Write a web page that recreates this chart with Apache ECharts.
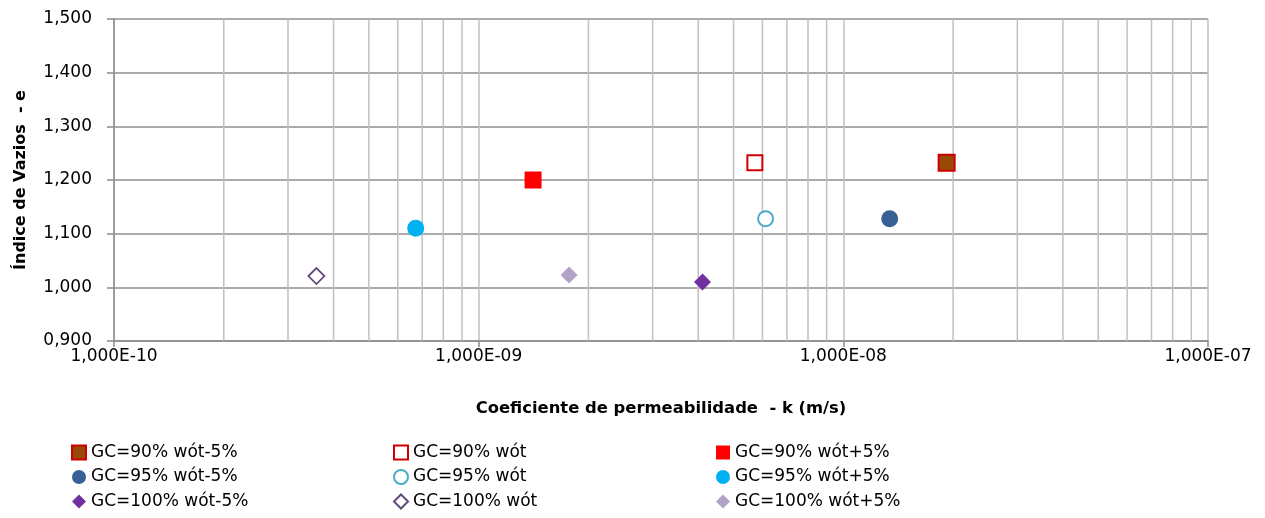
<!DOCTYPE html>
<html>
<head>
<meta charset="utf-8">
<script src="https://cdn.jsdelivr.net/npm/echarts@6/dist/echarts.min.js"></script>
<style>
html,body{margin:0;padding:0;background:#fff;}
#chart{width:1265px;height:518px;}
</style>
</head>
<body>
<div id="chart"></div>
<script>
// ---- Data (k in m/s, e = void ratio) ----
const seriesNames = [
  'GC=90% wót-5%', 'GC=90% wót', 'GC=90% wót+5%',
  'GC=95% wót-5%', 'GC=95% wót', 'GC=95% wót+5%',
  'GC=100% wót-5%', 'GC=100% wót', 'GC=100% wót+5%'
];
const gc90_wm5 = [[1.92e-8, 1.232]];
const gc90_w   = [[5.72e-9, 1.232]];
const gc90_wp5 = [[1.41e-9, 1.200]];
const gc95_wm5 = [[1.34e-8, 1.128]];
const gc95_w   = [[6.12e-9, 1.128]];
const gc95_wp5 = [[6.72e-10, 1.110]];
const gc100_wm5 = [[4.11e-9, 1.010]];
const gc100_w   = [[3.59e-10, 1.021]];
const gc100_wp5 = [[1.77e-9, 1.023]];

const xMin = 1e-10, xMax = 1e-7;
const yMin = 0.9, yMax = 1.5, yStep = 0.1;
const decades = [1e-10, 1e-9, 1e-8];
const minorMultipliers = [2, 3, 4, 5, 6, 7, 8, 9];

// minor (log) vertical gridlines: drawn as a gapped line series through the axes
const minorGridData = [];
decades.forEach(d => minorMultipliers.forEach(m => {
  const v = +(d * m).toPrecision(3);
  minorGridData.push([v, yMin], [v, yMax], '-');
}));

const FONT = 'DejaVu Sans';

function mk(name, data, symbol, size, fill, border, bw) {
  return {
    name: name, type: 'scatter', data: data, symbol: symbol, symbolSize: size, z: 5,
    itemStyle: { color: fill, borderColor: border || fill, borderWidth: bw || 0, opacity: 1 },
    emphasis: { disabled: true }
  };
}

const series = [
  {
    name: 'minor', type: 'line', data: minorGridData, z: 1, silent: true,
    showSymbol: false, symbol: 'none', connectNulls: false,
    lineStyle: { color: '#c0c0c0', width: 1.5 },
    emphasis: { disabled: true }
  },
  mk(seriesNames[0], gc90_wm5, 'rect', 16, '#984807', '#d00000', 2),
  mk(seriesNames[1], gc90_w, 'rect', 15, '#ffffff', '#d00000', 2),
  mk(seriesNames[2], gc90_wp5, 'rect', 17, '#ff0000'),
  mk(seriesNames[3], gc95_wm5, 'circle', 17, '#376194'),
  mk(seriesNames[4], gc95_w, 'circle', 15, '#ffffff', '#4bacc6', 2),
  mk(seriesNames[5], gc95_wp5, 'circle', 17, '#00b0f0'),
  mk(seriesNames[6], gc100_wm5, 'diamond', 17, '#7030a0'),
  mk(seriesNames[7], gc100_w, 'diamond', 16, '#ffffff', '#604a7b', 1.8),
  mk(seriesNames[8], gc100_wp5, 'diamond', 17, '#b3a2c7')
];

function legendCol(left, names) {
  return {
    orient: 'vertical', left: left, top: 444, padding: 0,
    itemWidth: 14, itemHeight: 14, itemGap: 7.5,
    selectedMode: false,
    textStyle: { fontFamily: FONT, fontSize: 17, color: '#000', lineHeight: 17 },
    data: names
  };
}

const option = {
  animation: false,
  backgroundColor: '#ffffff',
  grid: { left: 114, right: 57, top: 19, bottom: 177, containLabel: false },
  legend: [
    legendCol(71, [seriesNames[0], seriesNames[3], seriesNames[6]]),
    legendCol(393, [seriesNames[1], seriesNames[4], seriesNames[7]]),
    legendCol(716, [seriesNames[2], seriesNames[5], seriesNames[8]])
  ],
  xAxis: {
    type: 'log', logBase: 10, min: xMin, max: xMax,
    name: 'Coeficiente de permeabilidade  - k (m/s)',
    nameLocation: 'middle', nameGap: 60,
    nameTextStyle: { fontFamily: FONT, fontSize: 16.4, fontWeight: 'bold', color: '#000' },
    axisLine: { show: true, lineStyle: { color: '#8c8c8c', width: 1.5 } },
    axisTick: { show: true, length: 6, inside: false, lineStyle: { color: '#8c8c8c', width: 1.5 } },
    axisLabel: {
      margin: 7, fontFamily: FONT, fontSize: 17, color: '#000',
      formatter: function (v) {
        const e = Math.round(Math.log10(v));
        return '1,000E' + (e < 0 ? '-' : '+') + String(Math.abs(e)).padStart(2, '0');
      }
    },
    splitLine: { show: true, lineStyle: { color: '#c0c0c0', width: 1.5 } }
  },
  yAxis: {
    type: 'value', min: yMin, max: yMax, interval: yStep,
    name: 'Índice de Vazios  - e',
    nameLocation: 'middle', nameGap: 85, nameRotate: 90,
    nameTextStyle: { fontFamily: FONT, fontSize: 16, fontWeight: 'bold', color: '#000' },
    axisLine: { show: true, lineStyle: { color: '#8c8c8c', width: 1.5 } },
    axisTick: { show: true, length: 7, inside: false, lineStyle: { color: '#8c8c8c', width: 1.5 } },
    axisLabel: {
      margin: 22, fontFamily: FONT, fontSize: 17, color: '#000',
      formatter: v => v.toFixed(3).replace('.', ',')
    },
    splitLine: { show: true, lineStyle: { color: '#8f8f8f', width: 1.5 } }
  },
  series: series
};

const chart = echarts.init(document.getElementById('chart'), null, { renderer: 'canvas' });
chart.setOption(option);
</script>
</body>
</html>
